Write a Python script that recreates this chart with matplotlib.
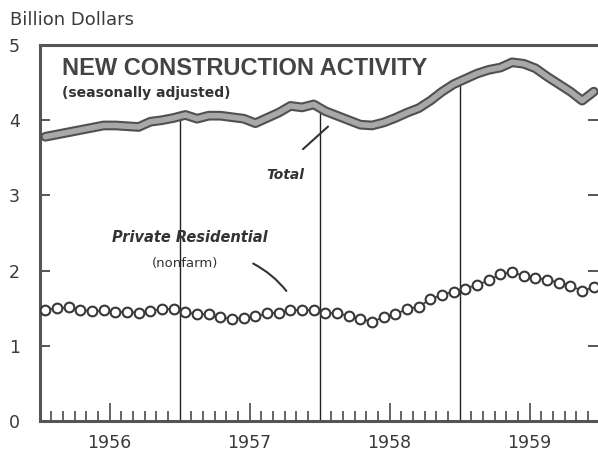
import matplotlib.pyplot as plt
import numpy as np

# monthly values Jan 1956 - Dec 1959, billion dollars (seasonally adjusted)
total = [3.78, 3.81, 3.84, 3.87, 3.90, 3.93, 3.93, 3.92, 3.91, 3.98, 4.00, 4.03,
         4.07, 4.02, 4.06, 4.06, 4.04, 4.02, 3.96, 4.03, 4.10, 4.19, 4.17, 4.21,
         4.12, 4.06, 4.00, 3.94, 3.93, 3.97, 4.03, 4.10, 4.16, 4.26, 4.38, 4.48,
         4.55, 4.62, 4.67, 4.70, 4.77, 4.75, 4.69, 4.58, 4.48, 4.38, 4.26, 4.38]
private_res = [1.48, 1.50, 1.51, 1.48, 1.46, 1.47, 1.45, 1.45, 1.44, 1.46, 1.49, 1.49,
               1.45, 1.42, 1.42, 1.38, 1.36, 1.37, 1.39, 1.43, 1.44, 1.47, 1.48, 1.47,
               1.44, 1.43, 1.40, 1.36, 1.32, 1.38, 1.42, 1.49, 1.52, 1.62, 1.68, 1.72,
               1.76, 1.81, 1.87, 1.95, 1.98, 1.93, 1.90, 1.88, 1.84, 1.80, 1.73, 1.78]
years = ["1956", "1957", "1958", "1959"]
y_ticks = [0, 1, 2, 3, 4, 5]

ink = "#3a3a3a"
months = np.arange(len(total)) + 0.5

fig = plt.figure(figsize=(5.98, 4.54), dpi=100)
ax = fig.add_axes([39.5 / 598, 33 / 454, 1 - 39.5 / 598, 376 / 454])
ax.set_xlim(0, (598 - 39.5) / 11.67)
ax.set_ylim(0, 5)

# year separators, from the axis up to the total line
for b in (12, 24, 36):
    ax.vlines(b, 0, np.interp(b, months, total), color="#222222", lw=1.0, zorder=1)

# total: thick grey band
ax.plot(months, total, color="#505050", lw=7, solid_capstyle="round", zorder=3)
ax.plot(months, total, color="#a8a8a8", lw=4, solid_capstyle="round", zorder=4)

# private residential: linked open circles
ax.plot(months, private_res, color=ink, lw=1.2, marker="o", ms=7,
        mfc="white", mec="#383838", mew=1.5, zorder=3)

# axes styling
for side in ("left", "bottom", "top"):
    ax.spines[side].set_color("#555555")
    ax.spines[side].set_linewidth(2.2)
ax.spines["right"].set_visible(False)

ax.set_yticks(y_ticks)
ax.set_yticklabels([str(v) for v in y_ticks], fontsize=12.5, color=ink)
ax.tick_params(axis="y", which="major", direction="in", length=7.5, width=1.2,
               color=ink, pad=14, right=True)

ax.set_xticks([6, 18, 30, 42])
ax.set_xticklabels(years, fontsize=12.5, color=ink)
minor = [m for m in range(1, 48) if m % 6 != 0]
ax.set_xticks(minor, minor=True)
ax.tick_params(axis="x", which="major", direction="in", length=13, width=1.1,
               color=ink, pad=9)
ax.tick_params(axis="x", which="minor", direction="in", length=7.5, width=1.1,
               color=ink)

# text
fig.text(10 / 598, 1 - 25 / 454, "Billion Dollars", fontsize=13, color=ink)
ax.text(1.95, 4.60, "NEW CONSTRUCTION ACTIVITY", fontsize=17,
        family="Liberation Sans", fontweight="bold",
        color="#444444", va="baseline")
ax.text(1.95, 4.31, "(seasonally adjusted)", fontsize=10, fontweight="bold",
        color="#333333", va="baseline")
ax.text(19.4, 3.22, "Total", fontsize=10, fontweight="bold", fontstyle="italic",
        color="#333333", va="baseline")
ax.text(6.2, 2.385, "Private Residential", fontsize=10.5, fontweight="bold",
        fontstyle="italic", color="#333333", va="baseline")
ax.text(9.65, 2.05, "(nonfarm)", fontsize=9.5, color="#333333", va="baseline")

# pointers
ax.annotate("", xy=(24.9, 3.94), xytext=(22.4, 3.59),
            arrowprops=dict(arrowstyle="-", color="#333333", lw=1.5))
ax.annotate("", xy=(21.3, 1.70), xytext=(18.1, 2.11),
            arrowprops=dict(arrowstyle="-", color="#333333", lw=1.5,
                            connectionstyle="arc3,rad=-0.12"))

fig.savefig("out.png", dpi=100)
